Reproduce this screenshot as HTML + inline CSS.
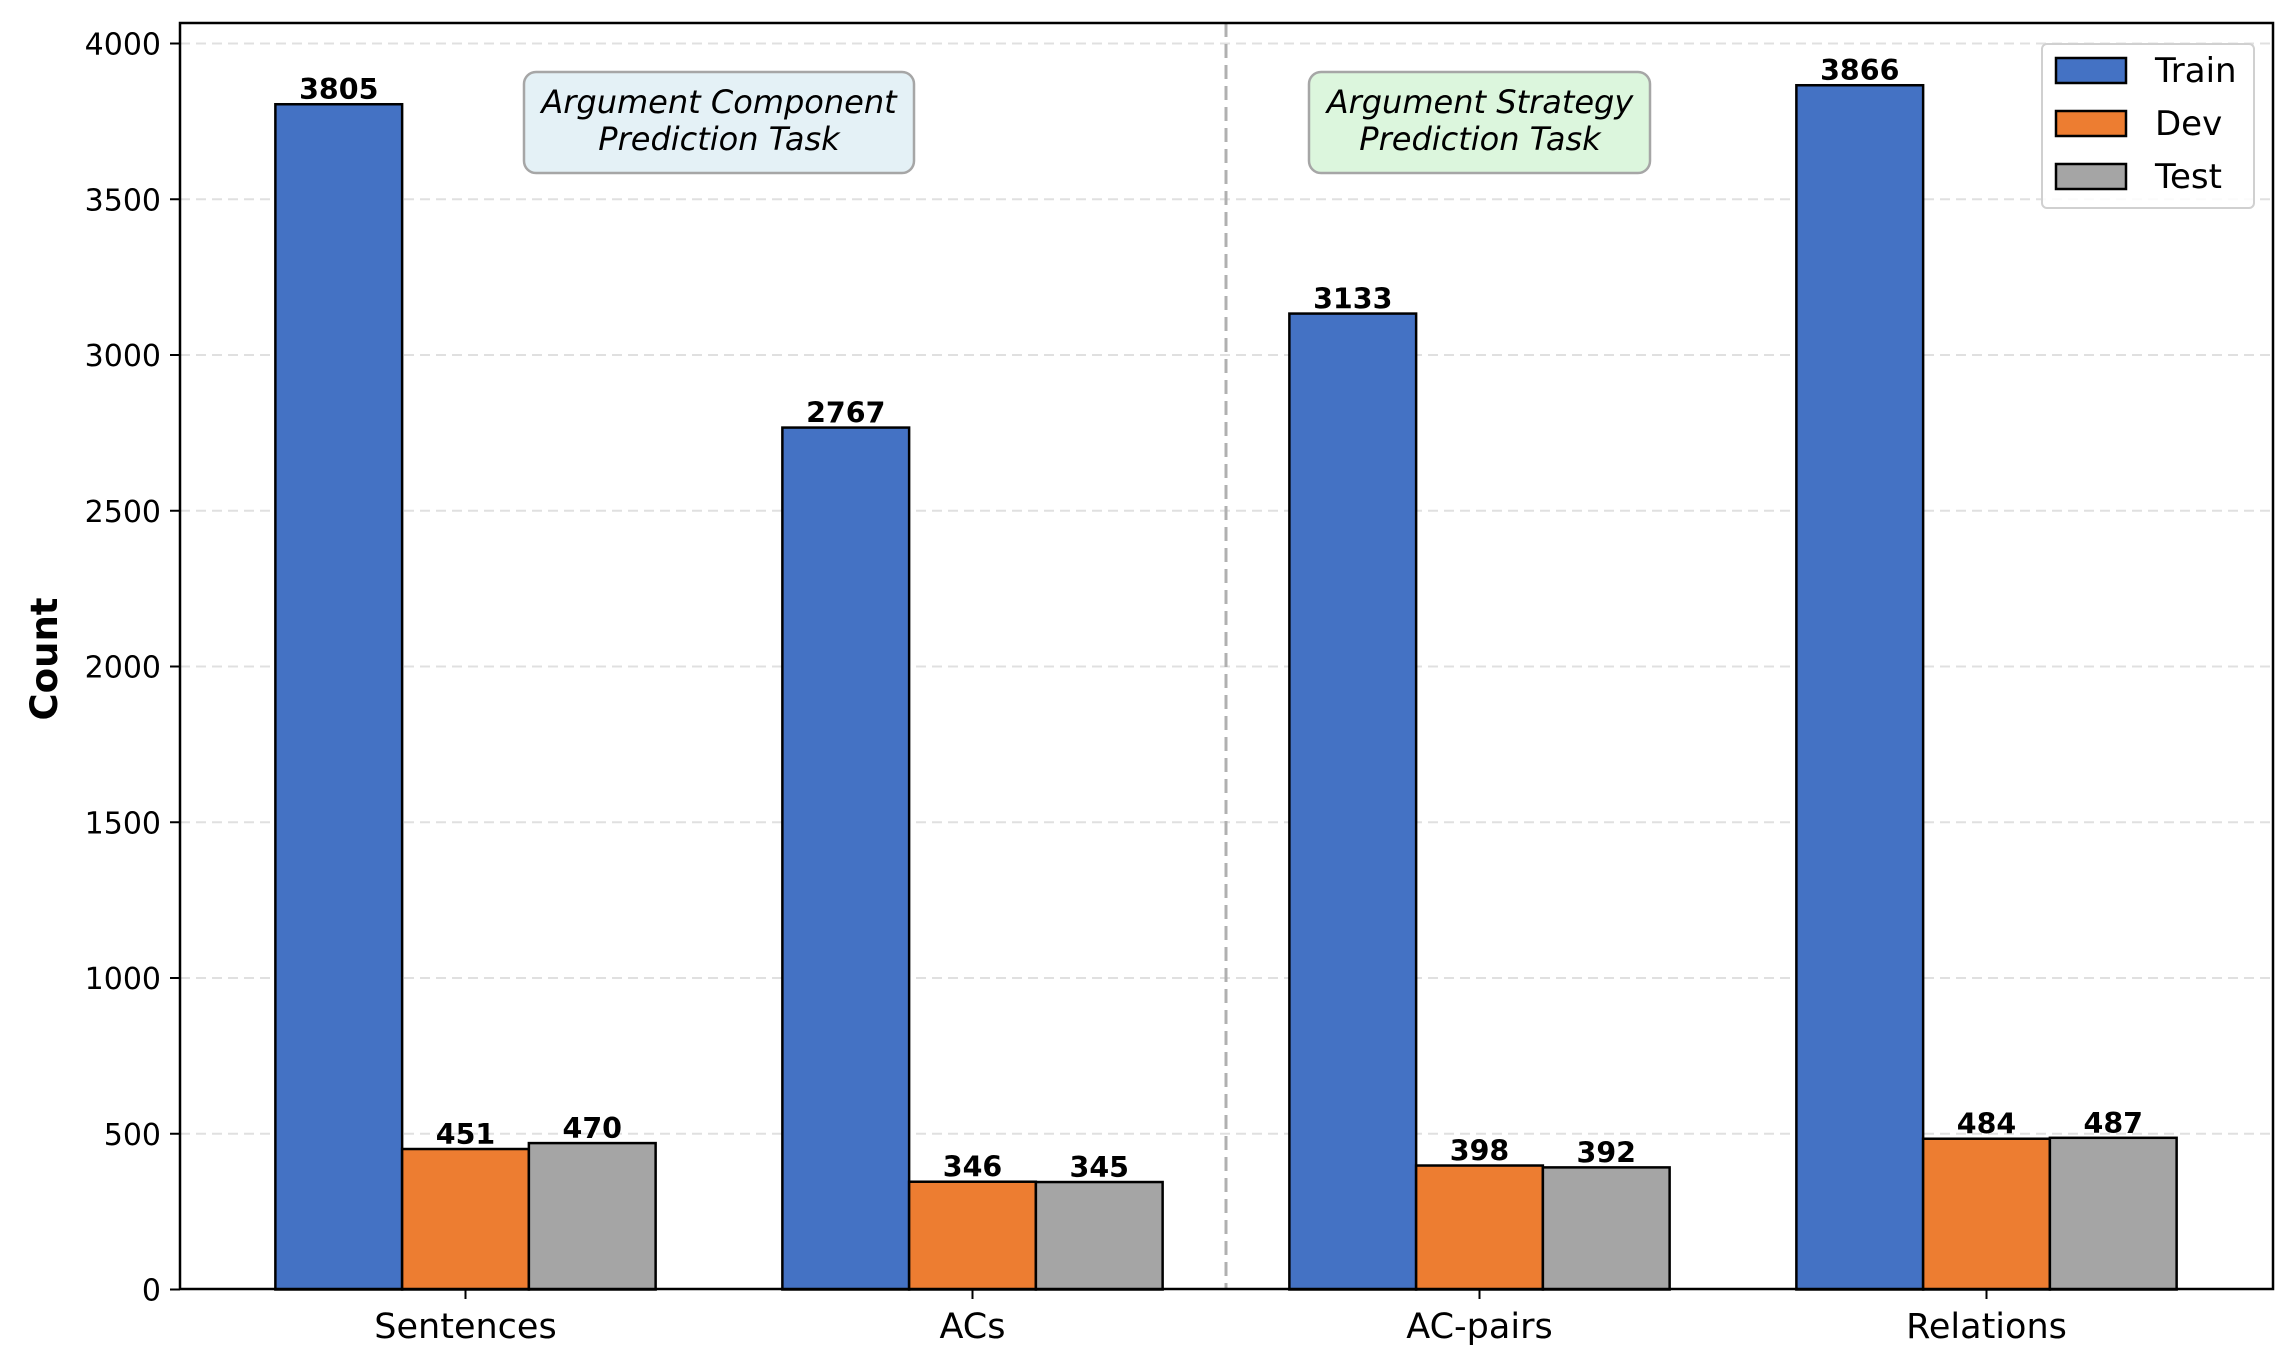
<!DOCTYPE html>
<html><head><meta charset="utf-8"><style>
html,body{margin:0;padding:0;background:#fff;}
svg{display:block;font-family:"DejaVu Sans","Liberation Sans",sans-serif;}
</style></head><body>
<svg id="chart" width="2295" height="1360" viewBox="0 0 2295 1360" xmlns="http://www.w3.org/2000/svg">
<g id="grid"></g>
<line x1="1226" x2="1226" y1="23" y2="1289" stroke="#b0b0b0" stroke-width="3" stroke-dasharray="14,7"/>
<g id="bars"></g>
<g id="labels"></g>
<rect x="180" y="23" width="2093" height="1266" fill="none" stroke="#000" stroke-width="2.5"/>
<g id="yticks"></g>
<g id="xticks"></g>
<text x="0" y="0" transform="translate(57,659) rotate(-90)" text-anchor="middle" font-size="37" font-weight="bold">Count</text>
<g>
<rect x="524" y="72" width="390" height="101" rx="12" fill="#e4f1f6" stroke="#a6a6a6" stroke-width="2.5"/>
<text x="719" y="113" text-anchor="middle" font-size="32" font-style="italic">Argument Component</text>
<text x="719" y="150" text-anchor="middle" font-size="32" font-style="italic">Prediction Task</text>
</g>
<g>
<rect x="1309" y="72" width="341" height="101" rx="12" fill="#dcf6dd" stroke="#a6a6a6" stroke-width="2.5"/>
<text x="1480" y="113" text-anchor="middle" font-size="32" font-style="italic">Argument Strategy</text>
<text x="1480" y="150" text-anchor="middle" font-size="32" font-style="italic">Prediction Task</text>
</g>
<g id="legend">
<rect x="2042" y="44" width="212" height="164" rx="5" fill="#fff" fill-opacity="0.85" stroke="#d0d0d0" stroke-width="2"/>
</g>
</svg>
<script>
const categories = ["Sentences","ACs","AC-pairs","Relations"];
const seriesNames = ["Train","Dev","Test"];
const train = [3805, 2767, 3133, 3866];
const dev = [451, 346, 398, 484];
const test = [470, 345, 392, 487];
const yTicks = [0,500,1000,1500,2000,2500,3000,3500,4000];
const colors = ["#4472c4","#ed7d31","#a5a5a5"];
const series = [train, dev, test];

const NS = "http://www.w3.org/2000/svg";
const x0 = 465.5, step = 507, barW = 0.25;
function xScale(i){ return x0 + i*step; }
function yScale(v){ return 1289.5 - v*0.3115; }
function mk(tag, attrs, parent){ const e=document.createElementNS(NS,tag); for(const k in attrs) e.setAttribute(k,attrs[k]); parent.appendChild(e); return e; }

const grid=document.getElementById('grid'), yt=document.getElementById('yticks');
yTicks.forEach(t=>{
  const y=yScale(t);
  if(t>0){ const g=mk('line',{x1:180,x2:2273,y1:y,y2:y,stroke:'#e0e0e0','stroke-width':2,'stroke-dasharray':'10,6'},grid);
    
     }
  const tk=mk('line',{x1:170,x2:180,y1:y,y2:y,stroke:'#000','stroke-width':2},yt);
  
  
  const tl=mk('text',{x:161,y:y+11,'text-anchor':'end','font-size':30},yt);
  tl.textContent=t;
  
  
});
const xt=document.getElementById('xticks');
categories.forEach((c,i)=>{
  const x=xScale(i);
  const tk=mk('line',{x1:x,x2:x,y1:1289,y2:1299,stroke:'#000','stroke-width':2},xt);
  
  
  const tl=mk('text',{x:x,y:1338,'text-anchor':'middle','font-size':35},xt);
  tl.textContent=c;
  
  
});
const bars=document.getElementById('bars'), labels=document.getElementById('labels');
series.forEach((s,j)=>{
  s.forEach((v,i)=>{
    const cx=xScale(i+(j-1)*barW), w=barW*step;
    const top=yScale(v), bot=yScale(0);
    const r=mk('rect',{x:cx-w/2,y:top,width:w,height:bot-top,fill:colors[j],stroke:'#000','stroke-width':2.5},bars);
    
    
    const t=mk('text',{x:cx,y:top-5,'text-anchor':'middle','font-size':28.5,'font-weight':'bold'},labels);
    t.textContent=v;
    
    
  });
});
const lg=document.getElementById('legend');
seriesNames.forEach((n,j)=>{
  const y=70+j*53;
  const p=mk('rect',{x:2056,y:y-12,width:70,height:25,fill:colors[j],stroke:'#000','stroke-width':2.5},lg);
  
  
  const t=mk('text',{x:2155,y:y+12,'font-size':34},lg);
  t.textContent=n;
  
  
});
</script>
</body></html>
